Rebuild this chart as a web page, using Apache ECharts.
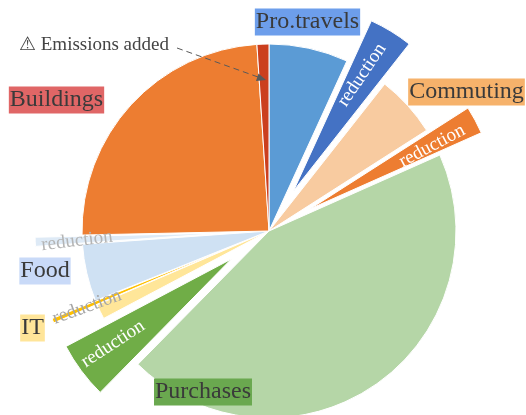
<!DOCTYPE html>
<html>
<head>
<meta charset="utf-8">
<style>html,body{margin:0;padding:0;background:#fff}#c{width:526px;height:415px}</style>
<script src="https://cdn.jsdelivr.net/npm/echarts@6/dist/echarts.min.js"></script>
</head>
<body>
<div id="c"></div>
<script>
// Shares of total emissions, clockwise from 12 o'clock
const categories = ['Pro.travels','Pro.travels reduction','Commuting','Commuting reduction','Purchases','Purchases reduction','IT','IT reduction','Food','Food reduction','Buildings','Emissions added'];
const values = [6.83,3.78,5.33,2.39,44.0,4.89,1.28,0.39,4.94,0.78,24.3,1.03];
const exploded = [false,true,false,true,false,true,false,true,false,true,false,false];
const sliceColors = ['#5B9BD5','#4472C4','#F8CBA0','#ED7D31','#B5D6A7','#70AD47','#FFE699','#FFC000','#CFE1F3','#DEEAF6','#ED7D31','#CB3F1E'];
const labelBackgrounds = {'Pro.travels':'#6D9EEB','Commuting':'#F6B26B','Purchases':'#6AA84F','Food':'#C9DAF8','IT':'#FFE599','Buildings':'#E06666'};
const reductionColors = {'Pro.travels reduction':'#ffffff','Commuting reduction':'#ffffff','Purchases reduction':'#ffffff','IT reduction':'#a6a6a6','Food reduction':'#b4b4b4'};
const labelPlaces = {
  'Pro.travels':[307.5,22,0],'Commuting':[466.5,92,0],'Purchases':[203,392,0],'Food':[45,271,0],'IT':[32.5,328,0],'Buildings':[56.5,100,0],
  'Pro.travels reduction':[362,75,56],'Commuting reduction':[432,146,28],'Purchases reduction':[113,344,33],'IT reduction':[87,307,20],'Food reduction':[77,241,7]
};
const noteText = '\u26A0 Emissions added';
const serif = '"Liberation Serif", serif';

const data = categories.map((name,i)=>({
  name, value: values[i], selected: exploded[i],
  itemStyle:{color:sliceColors[i]}
}));

const labelGraphics = Object.keys(labelPlaces).map(name=>{
  const p = labelPlaces[name], isRed = name in reductionColors;
  return {
    type:'text', z:90, x:p[0], y:p[1], rotation:p[2]*Math.PI/180, silent:true,
    style: isRed
      ? {text:'reduction',fontSize:19,fontFamily:serif,fill:reductionColors[name],textAlign:'center',textVerticalAlign:'middle'}
      : {text:name,fontSize:24,fontFamily:serif,fill:'#3a3a3a',textAlign:'center',textVerticalAlign:'middle',backgroundColor:labelBackgrounds[name],padding:[2,1,1,1]}
  };
});

const chart = echarts.init(document.getElementById('c'),null,{renderer:'canvas'});
chart.setOption({
  animation:false,
  backgroundColor:'#fff',
  series:[{
    type:'pie',
    center:[269,231],
    radius:[0,187],
    startAngle:90,
    clockwise:true,
    selectedMode:'multiple',
    selectedOffset:47,
    avoidLabelOverlap:false,
    silent:true,
    itemStyle:{borderColor:'#fff',borderWidth:1},
    label:{show:false},
    labelLine:{show:false},
    emphasis:{disabled:true},
    data
  }],
  graphic:labelGraphics.concat([
    {type:'text',z:100,x:19,y:45,style:{text:noteText,fontSize:19,fontFamily:serif,fill:'#444',textVerticalAlign:'middle'}},
    {type:'line',z:100,shape:{x1:177,y1:48,x2:258,y2:77},style:{stroke:'#595959',lineWidth:1,lineDash:[6,4]}},
    {type:'polygon',z:100,shape:{points:[[266,80],[256,81],[258.5,73.5]]},style:{fill:'#595959'}}
  ])
});
</script>
</body>
</html>
